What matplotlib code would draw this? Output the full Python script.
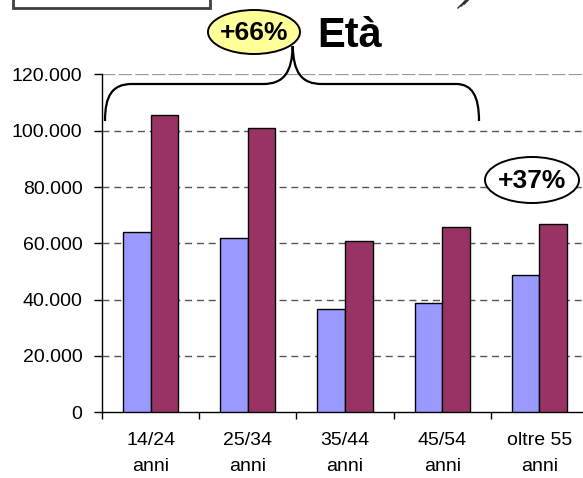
import numpy as np
import matplotlib
matplotlib.use("Agg")
import matplotlib.pyplot as plt
from matplotlib.patches import Ellipse, Rectangle, PathPatch
from matplotlib.path import Path

plt.rcParams['font.family'] = ['Liberation Sans', 'DejaVu Sans']

# age groups and the two yearly series
categories = ['14/24\nanni', '25/34\nanni', '35/44\nanni', '45/54\nanni', 'oltre 55\nanni']
before = [64000, 61800, 36600, 38900, 48700]
after = [105600, 101100, 60700, 65800, 66900]
yticks = [0, 20000, 40000, 60000, 80000, 100000, 120000]

W, H = 583, 478
fig = plt.figure(figsize=(W / 100, H / 100), dpi=100)
ax = fig.add_axes([102 / W, 1 - 412.3 / H, (588 - 102) / W, (412.3 - 74.4) / H])

x = np.arange(len(categories))
w = 0.283
ax.bar(x - w / 2, before, w, color='#9999FF', edgecolor='black', linewidth=1, zorder=3)
ax.bar(x + w / 2, after, w, color='#993366', edgecolor='black', linewidth=1, zorder=3)

ax.set_xlim(-0.5, len(categories) - 0.5)
ax.set_ylim(0, 120000)

# y axis with Italian thousands separator
ax.set_yticks(yticks)
ax.set_yticklabels([f"{v:,.0f}".replace(",", ".") for v in yticks])
ax.tick_params(axis='y', direction='out', length=6, width=1, labelsize=14, pad=8)
for v in yticks[1:-1]:
    ax.axhline(v, color='#555555', lw=1, ls=(0, (5, 3.5)), zorder=1)
ax.axhline(yticks[-1], color='#9a9a9a', lw=1.6, ls=(0, (6, 1.5)), zorder=1)

# category separators as ticks, labels in between
ax.set_xticks(np.arange(-0.5, len(categories), 1.0))
ax.set_xticklabels([])
ax.tick_params(axis='x', which='major', direction='out', length=5, width=1)
ax.set_xticks(x, minor=True)
ax.set_xticklabels(categories, minor=True, fontsize=14, linespacing=1.75)
ax.tick_params(axis='x', which='minor', length=0, pad=14)

for s in ['top', 'right']:
    ax.spines[s].set_visible(False)
ax.spines['left'].set_linewidth(1)
ax.spines['bottom'].set_linewidth(1)

# overlay in pixel units for the annotations
ov = fig.add_axes([0, 0, 1, 1], zorder=5)
ov.set_xlim(0, W)
ov.set_ylim(H, 0)
ov.axis('off')

# curly brace over the first groups
verts = [(105, 121), (105, 96), (112, 84), (132, 84),
         (263, 84),
         (284, 84), (292, 72), (292.7, 46),
         (293.5, 72), (301, 84), (322, 84),
         (456, 84),
         (472, 84), (479, 96), (479, 121)]
codes = [Path.MOVETO, Path.CURVE4, Path.CURVE4, Path.CURVE4,
         Path.LINETO,
         Path.CURVE4, Path.CURVE4, Path.CURVE4,
         Path.CURVE4, Path.CURVE4, Path.CURVE4,
         Path.LINETO,
         Path.CURVE4, Path.CURVE4, Path.CURVE4]
ov.add_patch(PathPatch(Path(verts, codes), fill=False, lw=1.6, color='black'))

ov.add_patch(Ellipse((254, 32), 92, 44, facecolor='#FFFF99', edgecolor='black', lw=1.4))
ov.text(254, 33, '+66%', fontsize=19, fontweight='bold', ha='center', va='center')
ov.text(350, 47, 'Età', fontsize=30, fontweight='bold', ha='center', va='baseline')

ov.add_patch(Ellipse((532, 180), 94, 46, facecolor='white', edgecolor='black', lw=1.4))
ov.text(532, 181, '+37%', fontsize=19, fontweight='bold', ha='center', va='center')

# box edge and stray strokes along the top border
ov.add_patch(Rectangle((13, -10), 197, 17.5, fill=False, edgecolor='#404040', lw=2))
for dx in (0, 3, 6):
    ov.plot([458 + dx, 466 + dx], [8 - dx * 0.6, 0 - dx * 0.6], color='#333333', lw=1)

fig.savefig('out.png', dpi=100)
